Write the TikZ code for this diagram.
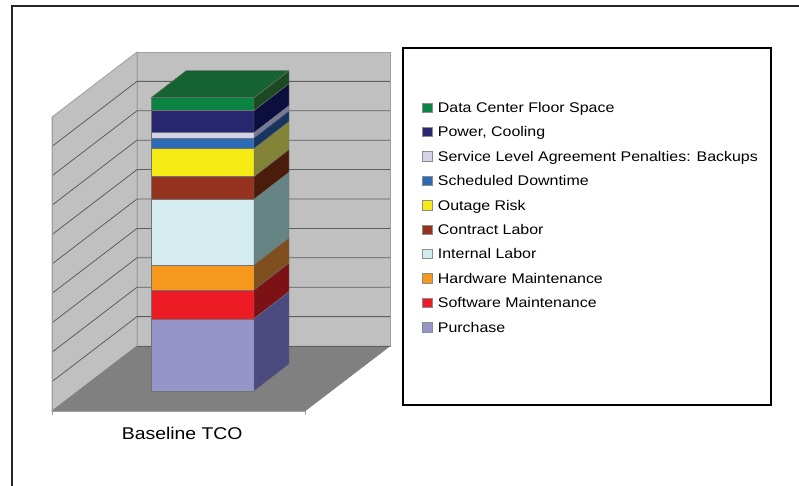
\documentclass[tikz,border=0pt]{standalone}
\usepackage{fontspec}
\newfontfamily\arialx[FakeStretch=1.14]{Liberation Sans}
\definecolor{wallc}{HTML}{C0C0C0}
\definecolor{floorc}{HTML}{808080}
\definecolor{gridc}{HTML}{5E5E5E}
\definecolor{edgec}{HTML}{A0A0A0}
\definecolor{cgreen}{HTML}{0B8443}\definecolor{sgreen}{HTML}{1B4A22}\definecolor{tgreen}{HTML}{156330}
\definecolor{cnavy}{HTML}{272870}\definecolor{snavy}{HTML}{0C0F3E}
\definecolor{clav}{HTML}{D2D2EA}\definecolor{slav}{HTML}{787898}
\definecolor{cblue}{HTML}{2E6BB6}\definecolor{sblue}{HTML}{163660}
\definecolor{cyel}{HTML}{F4EA14}\definecolor{syel}{HTML}{838338}
\definecolor{cbrown}{HTML}{94331E}\definecolor{sbrown}{HTML}{4A1C0C}
\definecolor{ccyan}{HTML}{D4ECF0}\definecolor{scyan}{HTML}{668483}
\definecolor{corange}{HTML}{F7981E}\definecolor{sorange}{HTML}{7E4E1E}
\definecolor{cred}{HTML}{ED1C24}\definecolor{sred}{HTML}{7D1216}
\definecolor{cpurp}{HTML}{9595C9}\definecolor{spurp}{HTML}{4B4B80}
\begin{document}
\begin{tikzpicture}[x=1pt,y=-1pt,
  gridline/.style={draw=gridc,line width=0.8pt},
  wallline/.style={draw=edgec,line width=0.8pt},
  barface/.style={draw=black!55,line width=0.4pt},
  legsq/.style={draw=black!45,line width=0.4pt,minimum width=10pt,minimum height=9.5pt,inner sep=0pt},
  legtext/.style={font=\arialx\fontsize{14}{16}\selectfont,inner sep=0pt,anchor=base west},
  cattext/.style={font=\arialx\fontsize{17}{19}\selectfont,inner sep=0pt,anchor=base west}]
\useasboundingbox (0,0) rectangle (799,486);
\fill[white] (0,0) rectangle (799,486);
% outer frame
\draw[line width=2pt,black!85] (11.7,486) -- (11.7,6) -- (799,6);
% walls
\filldraw[fill=wallc,wallline] (137,52) rectangle (390,346);
\filldraw[fill=wallc,wallline] (52,117) -- (137,52) -- (137,346) -- (52,411) -- cycle;
\filldraw[fill=floorc,draw=floorc,line width=0.5pt] (52,411) -- (305,411) -- (390,346) -- (137,346) -- cycle;
% grid lines
\foreach \k in {1,...,9}{
  \draw[gridline] (52,{411-29.4*\k}) -- (137,{346-29.4*\k}) -- (390,{346-29.4*\k});
}
\draw[gridline] (137,346) -- (390,346);
\draw[draw=edgec,line width=0.8pt] (52,117) -- (52,415);
\draw[draw=edgec,line width=0.8pt] (52,411) -- (305,411) -- (305,415);
% bar
\foreach \t/\b/\f/\s in {97.7/110.7/cgreen/sgreen, 110.7/132.7/cnavy/snavy, 132.7/138/clav/slav,
  138/148.7/cblue/sblue, 148.7/176.7/cyel/syel, 176.7/199.3/cbrown/sbrown, 199.3/265/ccyan/scyan,
  265/290/corange/sorange, 290/318.7/cred/sred, 318.7/391/cpurp/spurp}{
  \filldraw[barface,fill=\f] (151,\t) rectangle (254,\b);
  \filldraw[barface,fill=\s] (254,\b) -- (289,{\b-27}) -- (289,{\t-27}) -- (254,\t) -- cycle;
}
\filldraw[barface,fill=tgreen] (151,97.7) -- (254,97.7) -- (289,70.7) -- (186,70.7) -- cycle;
% category label
\node[cattext] (cat) at (121.7,439.7) {Baseline TCO};
% legend
\draw[line width=1.8pt,black] (403,48) rectangle (770.7,405);
\foreach \i/\c/\txt in {0/cgreen/Data Center Floor Space, 1/cnavy/{Power, Cooling},
  2/clav/Service Level Agreement Penalties: Backups, 3/cblue/Scheduled Downtime,
  4/cyel/Outage Risk, 5/cbrown/Contract Labor, 6/ccyan/Internal Labor,
  7/corange/Hardware Maintenance, 8/cred/Software Maintenance, 9/cpurp/Purchase}{
  \node[legsq,fill=\c] (sq\i) at (426.7,{107.5+24.4*\i}) {};
  \node[legtext] (lt\i) at (437.7,{112.5+24.4*\i}) {\txt};
}
\end{tikzpicture}
\end{document}
